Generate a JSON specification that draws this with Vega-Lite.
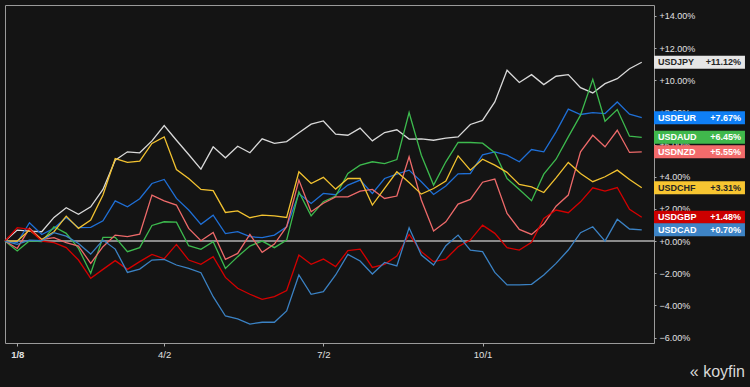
{
  "$schema": "https://vega.github.io/schema/vega-lite/v6.json",
  "width": 649,
  "height": 338,
  "autosize": {"type": "none"},
  "padding": {"left": 5, "top": 5, "right": 96, "bottom": 44},
  "background": "#141414",
  "config": {"view": {"stroke": "#9a9a9a", "strokeWidth": 1}, "font": "Liberation Sans", "axis": {"labelOverlap": false}},
  "title": {"text": "« koyfin", "orient": "bottom", "anchor": "end", "frame": "group", "fontSize": 16, "color": "#d8d8d8", "fontWeight": "normal", "font": "Liberation Sans", "offset": 5, "dx": 91},
  "datasets": {
    "fx": [
      {"d":"2021-01-01","USDJPY":0,"USDEUR":0,"USDAUD":0,"USDNZD":0,"USDCHF":0,"USDGBP":0,"USDCAD":0},
      {"d":"2021-01-08","USDJPY":0.68,"USDEUR":-0.1,"USDAUD":-0.62,"USDNZD":-0.46,"USDCHF":0,"USDGBP":0.83,"USDCAD":-0.2},
      {"d":"2021-01-15","USDJPY":0.62,"USDEUR":1.14,"USDAUD":0.02,"USDNZD":0.79,"USDCHF":0.68,"USDGBP":0.72,"USDCAD":0.05},
      {"d":"2021-01-22","USDJPY":0.58,"USDEUR":0.41,"USDAUD":-0.04,"USDNZD":0.1,"USDCHF":0.1,"USDGBP":0,"USDCAD":0.02},
      {"d":"2021-01-29","USDJPY":1.47,"USDEUR":0.79,"USDAUD":0.89,"USDNZD":0.21,"USDCHF":0.58,"USDGBP":-0.1,"USDCAD":0.52},
      {"d":"2021-02-05","USDJPY":2.07,"USDEUR":1.47,"USDAUD":0.48,"USDNZD":-0.1,"USDCHF":1.55,"USDGBP":-0.41,"USDCAD":0.31},
      {"d":"2021-02-12","USDJPY":1.66,"USDEUR":0.83,"USDAUD":-0.46,"USDNZD":-0.31,"USDCHF":0.79,"USDGBP":-1.18,"USDCAD":-0.15},
      {"d":"2021-02-19","USDJPY":2.13,"USDEUR":0.85,"USDAUD":-2.0,"USDNZD":-1.39,"USDCHF":1.3,"USDGBP":-2.32,"USDCAD":-0.81},
      {"d":"2021-02-26","USDJPY":3.21,"USDEUR":1.26,"USDAUD":0.23,"USDNZD":-0.35,"USDCHF":2.86,"USDGBP":-1.76,"USDCAD":0.06},
      {"d":"2021-03-05","USDJPY":5.03,"USDEUR":2.5,"USDAUD":0.23,"USDNZD":0.37,"USDCHF":5.13,"USDGBP":-1.22,"USDCAD":-0.5},
      {"d":"2021-03-12","USDJPY":5.55,"USDEUR":2.13,"USDAUD":-0.66,"USDNZD":0.27,"USDCHF":4.89,"USDGBP":-1.76,"USDCAD":-1.95},
      {"d":"2021-03-19","USDJPY":5.49,"USDEUR":2.63,"USDAUD":-0.41,"USDNZD":0.43,"USDCHF":4.97,"USDGBP":-1.28,"USDCAD":-1.74},
      {"d":"2021-03-26","USDJPY":6.23,"USDEUR":3.58,"USDAUD":0.97,"USDNZD":2.86,"USDCHF":6.07,"USDGBP":-0.83,"USDCAD":-1.18},
      {"d":"2021-04-02","USDJPY":7.18,"USDEUR":3.83,"USDAUD":1.2,"USDNZD":2.5,"USDCHF":6.48,"USDGBP":-1.1,"USDCAD":-1.14},
      {"d":"2021-04-09","USDJPY":6.27,"USDEUR":2.65,"USDAUD":1.18,"USDNZD":2.24,"USDCHF":4.45,"USDGBP":-0.21,"USDCAD":-1.49},
      {"d":"2021-04-16","USDJPY":5.38,"USDEUR":1.93,"USDAUD":-0.29,"USDNZD":0.79,"USDCHF":3.89,"USDGBP":-1.18,"USDCAD":-1.7},
      {"d":"2021-04-23","USDJPY":4.47,"USDEUR":1.04,"USDAUD":-0.52,"USDNZD":0.02,"USDCHF":3.21,"USDGBP":-1.45,"USDCAD":-1.97},
      {"d":"2021-04-30","USDJPY":5.86,"USDEUR":1.61,"USDAUD":-0.04,"USDNZD":0.54,"USDCHF":3.13,"USDGBP":-0.97,"USDCAD":-3.46},
      {"d":"2021-05-07","USDJPY":5.18,"USDEUR":0.46,"USDAUD":-1.7,"USDNZD":-1.14,"USDCHF":1.78,"USDGBP":-2.26,"USDCAD":-4.66},
      {"d":"2021-05-14","USDJPY":5.9,"USDEUR":0.58,"USDAUD":-0.97,"USDNZD":-0.77,"USDCHF":1.88,"USDGBP":-2.94,"USDCAD":-4.84},
      {"d":"2021-05-21","USDJPY":5.49,"USDEUR":0.27,"USDAUD":-0.31,"USDNZD":0.41,"USDCHF":1.45,"USDGBP":-3.31,"USDCAD":-5.16},
      {"d":"2021-05-28","USDJPY":6.36,"USDEUR":0.21,"USDAUD":0,"USDNZD":-0.7,"USDCHF":1.61,"USDGBP":-3.62,"USDCAD":-5.05},
      {"d":"2021-06-04","USDJPY":6.07,"USDEUR":0.37,"USDAUD":-0.41,"USDNZD":-0.19,"USDCHF":1.57,"USDGBP":-3.46,"USDCAD":-5.05},
      {"d":"2021-06-11","USDJPY":6.19,"USDEUR":0.89,"USDAUD":0.06,"USDNZD":0.89,"USDCHF":1.47,"USDGBP":-3.08,"USDCAD":-4.35},
      {"d":"2021-06-18","USDJPY":6.73,"USDEUR":2.96,"USDAUD":3.06,"USDNZD":3.79,"USDCHF":4.31,"USDGBP":-0.87,"USDCAD":-2.11},
      {"d":"2021-06-25","USDJPY":7.27,"USDEUR":2.34,"USDAUD":1.57,"USDNZD":1.82,"USDCHF":3.58,"USDGBP":-1.45,"USDCAD":-3.31},
      {"d":"2021-07-02","USDJPY":7.47,"USDEUR":2.96,"USDAUD":2.45,"USDNZD":2.35,"USDCHF":3.96,"USDGBP":-1.12,"USDCAD":-3.15},
      {"d":"2021-07-09","USDJPY":6.65,"USDEUR":2.88,"USDAUD":2.8,"USDNZD":2.75,"USDCHF":3.23,"USDGBP":-1.59,"USDCAD":-2.11},
      {"d":"2021-07-16","USDJPY":6.58,"USDEUR":3.48,"USDAUD":4.2,"USDNZD":2.75,"USDCHF":3.89,"USDGBP":-0.6,"USDCAD":-0.83},
      {"d":"2021-07-23","USDJPY":7.02,"USDEUR":3.79,"USDAUD":4.72,"USDNZD":3.1,"USDCHF":3.89,"USDGBP":-0.5,"USDCAD":-1.24},
      {"d":"2021-07-30","USDJPY":6.23,"USDEUR":2.96,"USDAUD":4.93,"USDNZD":3.21,"USDCHF":2.24,"USDGBP":-1.64,"USDCAD":-2.05},
      {"d":"2021-08-06","USDJPY":6.75,"USDEUR":3.89,"USDAUD":4.82,"USDNZD":2.65,"USDCHF":3.27,"USDGBP":-1.45,"USDCAD":-1.33},
      {"d":"2021-08-13","USDJPY":6.92,"USDEUR":4.16,"USDAUD":5.07,"USDNZD":2.8,"USDCHF":4.31,"USDGBP":-0.93,"USDCAD":-1.55},
      {"d":"2021-08-20","USDJPY":6.34,"USDEUR":4.41,"USDAUD":7.99,"USDNZD":5.24,"USDCHF":3.64,"USDGBP":0.41,"USDCAD":0.83},
      {"d":"2021-08-27","USDJPY":6.36,"USDEUR":3.69,"USDAUD":5.34,"USDNZD":2.55,"USDCHF":2.92,"USDGBP":-0.66,"USDCAD":-0.87},
      {"d":"2021-09-03","USDJPY":6.27,"USDEUR":2.9,"USDAUD":3.48,"USDNZD":0.62,"USDCHF":3.27,"USDGBP":-1.28,"USDCAD":-1.49},
      {"d":"2021-09-10","USDJPY":6.4,"USDEUR":3.42,"USDAUD":4.93,"USDNZD":1.2,"USDCHF":3.73,"USDGBP":-1.12,"USDCAD":-0.29},
      {"d":"2021-09-17","USDJPY":6.48,"USDEUR":4.18,"USDAUD":6.13,"USDNZD":2.3,"USDCHF":5.3,"USDGBP":-0.35,"USDCAD":0.37},
      {"d":"2021-09-24","USDJPY":7.25,"USDEUR":4.2,"USDAUD":6.13,"USDNZD":2.59,"USDCHF":4.41,"USDGBP":0.06,"USDCAD":-0.56},
      {"d":"2021-10-01","USDJPY":7.5,"USDEUR":5.36,"USDAUD":6.09,"USDNZD":3.66,"USDCHF":5.09,"USDGBP":0.99,"USDCAD":-0.66},
      {"d":"2021-10-08","USDJPY":8.65,"USDEUR":5.55,"USDAUD":5.49,"USDNZD":3.85,"USDCHF":4.72,"USDGBP":0.48,"USDCAD":-1.95},
      {"d":"2021-10-15","USDJPY":10.62,"USDEUR":5.34,"USDAUD":3.89,"USDNZD":1.72,"USDCHF":4.27,"USDGBP":-0.41,"USDCAD":-2.73},
      {"d":"2021-10-22","USDJPY":9.86,"USDEUR":4.93,"USDAUD":3.21,"USDNZD":0.72,"USDCHF":3.52,"USDGBP":-0.56,"USDCAD":-2.73},
      {"d":"2021-10-29","USDJPY":10.35,"USDEUR":5.69,"USDAUD":2.51,"USDNZD":0.41,"USDCHF":3.37,"USDGBP":-0.08,"USDCAD":-2.69},
      {"d":"2021-11-05","USDJPY":9.73,"USDEUR":5.55,"USDAUD":4.16,"USDNZD":1.06,"USDCHF":3.02,"USDGBP":1.41,"USDCAD":-2.11},
      {"d":"2021-11-12","USDJPY":10.25,"USDEUR":6.79,"USDAUD":5.09,"USDNZD":2.17,"USDCHF":3.93,"USDGBP":1.93,"USDCAD":-1.39},
      {"d":"2021-11-19","USDJPY":10.35,"USDEUR":8.2,"USDAUD":6.48,"USDNZD":2.86,"USDCHF":4.89,"USDGBP":1.76,"USDCAD":-0.56},
      {"d":"2021-11-26","USDJPY":9.54,"USDEUR":7.87,"USDAUD":7.83,"USDNZD":5.55,"USDCHF":4.2,"USDGBP":2.44,"USDCAD":0.52},
      {"d":"2021-12-03","USDJPY":9.21,"USDEUR":7.99,"USDAUD":10.06,"USDNZD":6.58,"USDCHF":3.69,"USDGBP":3.31,"USDCAD":0.89},
      {"d":"2021-12-10","USDJPY":9.79,"USDEUR":7.93,"USDAUD":7.45,"USDNZD":5.86,"USDCHF":4.0,"USDGBP":3.11,"USDCAD":0},
      {"d":"2021-12-17","USDJPY":10.1,"USDEUR":8.65,"USDAUD":8.18,"USDNZD":6.89,"USDCHF":4.41,"USDGBP":3.33,"USDCAD":1.35},
      {"d":"2021-12-24","USDJPY":10.72,"USDEUR":7.89,"USDAUD":6.52,"USDNZD":5.51,"USDCHF":3.83,"USDGBP":1.97,"USDCAD":0.75},
      {"d":"2021-12-31","USDJPY":11.12,"USDEUR":7.67,"USDAUD":6.45,"USDNZD":5.55,"USDCHF":3.31,"USDGBP":1.48,"USDCAD":0.7}
    ]
  },
  "data": {"name": "fx"},
  "transform": [
    {"fold": ["USDJPY", "USDEUR", "USDAUD", "USDNZD", "USDCHF", "USDGBP", "USDCAD"], "as": ["pair", "value"]}
  ],
  "encoding": {
    "y": {
      "field": "value", "type": "quantitative",
      "scale": {"domain": [-6.34, 14.68], "nice": false, "zero": false},
      "axis": {
        "orient": "right", "title": null, "grid": false, "domain": false, "labelOverlap": false,
        "values": [-6, -4, -2, 0, 2, 4, 6, 8, 10, 12, 14],
        "labelExpr": "format(datum.value, '+.2f') + '%'",
        "tickSize": 2, "tickColor": "#aaaaaa", "labelColor": "#e0e0e0", "labelFontSize": 9, "labelPadding": 3
      }
    }
  },
  "layer": [
    {
      "transform": [{"filter": {"field": "d", "equal": {"year": 2021, "month": 1, "date": 1, "utc": true}}}, {"filter": {"field": "pair", "equal": "USDJPY"}}],
      "mark": {"type": "rule", "color": "#8a8a8a", "strokeWidth": 2}
    },
    {
      "mark": {"type": "line", "strokeWidth": 1.3},
      "encoding": {
        "x": {
          "field": "d", "type": "temporal",
          "scale": {"type": "utc", "domain": [{"year": 2021, "month": 1, "date": 1, "utc": true}, {"year": 2022, "month": 1, "date": 7, "utc": true}]},
          "axis": {
            "title": null, "grid": false, "domain": false, "labelOverlap": false,
            "values": [{"year": 2021, "month": 1, "date": 8, "utc": true}, {"year": 2021, "month": 4, "date": 2, "utc": true}, {"year": 2021, "month": 7, "date": 2, "utc": true}, {"year": 2021, "month": 10, "date": 1, "utc": true}],
            "format": "%-m/%-d", "tickSize": 3, "tickColor": "#aaaaaa", "labelColor": "#e0e0e0", "labelFontSize": 9.5, "labelPadding": 3,
            "labelFontWeight": {"condition": {"test": "utcmonth(datum.value) == 0", "value": "bold"}, "value": "normal"}
          }
        },
        "color": {
          "field": "pair", "type": "nominal", "legend": null,
          "scale": {"domain": ["USDJPY", "USDEUR", "USDAUD", "USDNZD", "USDCHF", "USDGBP", "USDCAD"],
                    "range": ["#d9d9d9", "#1f6fd6", "#3dba4e", "#ee6a6a", "#f2c230", "#d40000", "#3b82c4"]}
        }
      }
    },
    {
      "transform": [{"filter": {"field": "d", "equal": {"year": 2021, "month": 12, "date": 31, "utc": true}}}],
      "mark": {"type": "rect", "height": 13},
      "encoding": {
        "x": {"datum": {"year": 2022, "month": 1, "date": 7, "utc": true}, "type": "temporal"},
        "x2": {"datum": {"year": 2022, "month": 2, "date": 28, "utc": true}},
        "fill": {
          "field": "pair", "type": "nominal", "legend": null,
          "scale": {"domain": ["USDJPY", "USDEUR", "USDAUD", "USDNZD", "USDCHF", "USDGBP", "USDCAD"],
                    "range": ["#e6e6e6", "#0f7ff5", "#40b84c", "#f26b6b", "#f7c531", "#cc0000", "#3e84c6"]}
        }
      }
    },
    {
      "transform": [{"filter": {"field": "d", "equal": {"year": 2021, "month": 12, "date": 31, "utc": true}}}],
      "mark": {"type": "text", "align": "left", "baseline": "middle", "dx": 4, "fontSize": 9, "fontWeight": "bold", "font": "Liberation Sans"},
      "encoding": {
        "x": {"datum": {"year": 2022, "month": 1, "date": 7, "utc": true}, "type": "temporal"},
        "text": {"field": "pair"},
        "color": {"condition": {"test": "datum.pair == 'USDJPY' || datum.pair == 'USDCHF'", "value": "#262626"}, "value": "#ffffff"}
      }
    },
    {
      "transform": [
        {"filter": {"field": "d", "equal": {"year": 2021, "month": 12, "date": 31, "utc": true}}},
        {"calculate": "format(datum.value, '+.2f') + '%'", "as": "label"}
      ],
      "mark": {"type": "text", "align": "right", "baseline": "middle", "dx": -4, "fontSize": 9, "fontWeight": "bold", "font": "Liberation Sans"},
      "encoding": {
        "x": {"datum": {"year": 2022, "month": 2, "date": 28, "utc": true}, "type": "temporal"},
        "text": {"field": "label"},
        "color": {"condition": {"test": "datum.pair == 'USDJPY' || datum.pair == 'USDCHF'", "value": "#262626"}, "value": "#ffffff"}
      }
    }
  ]
}
